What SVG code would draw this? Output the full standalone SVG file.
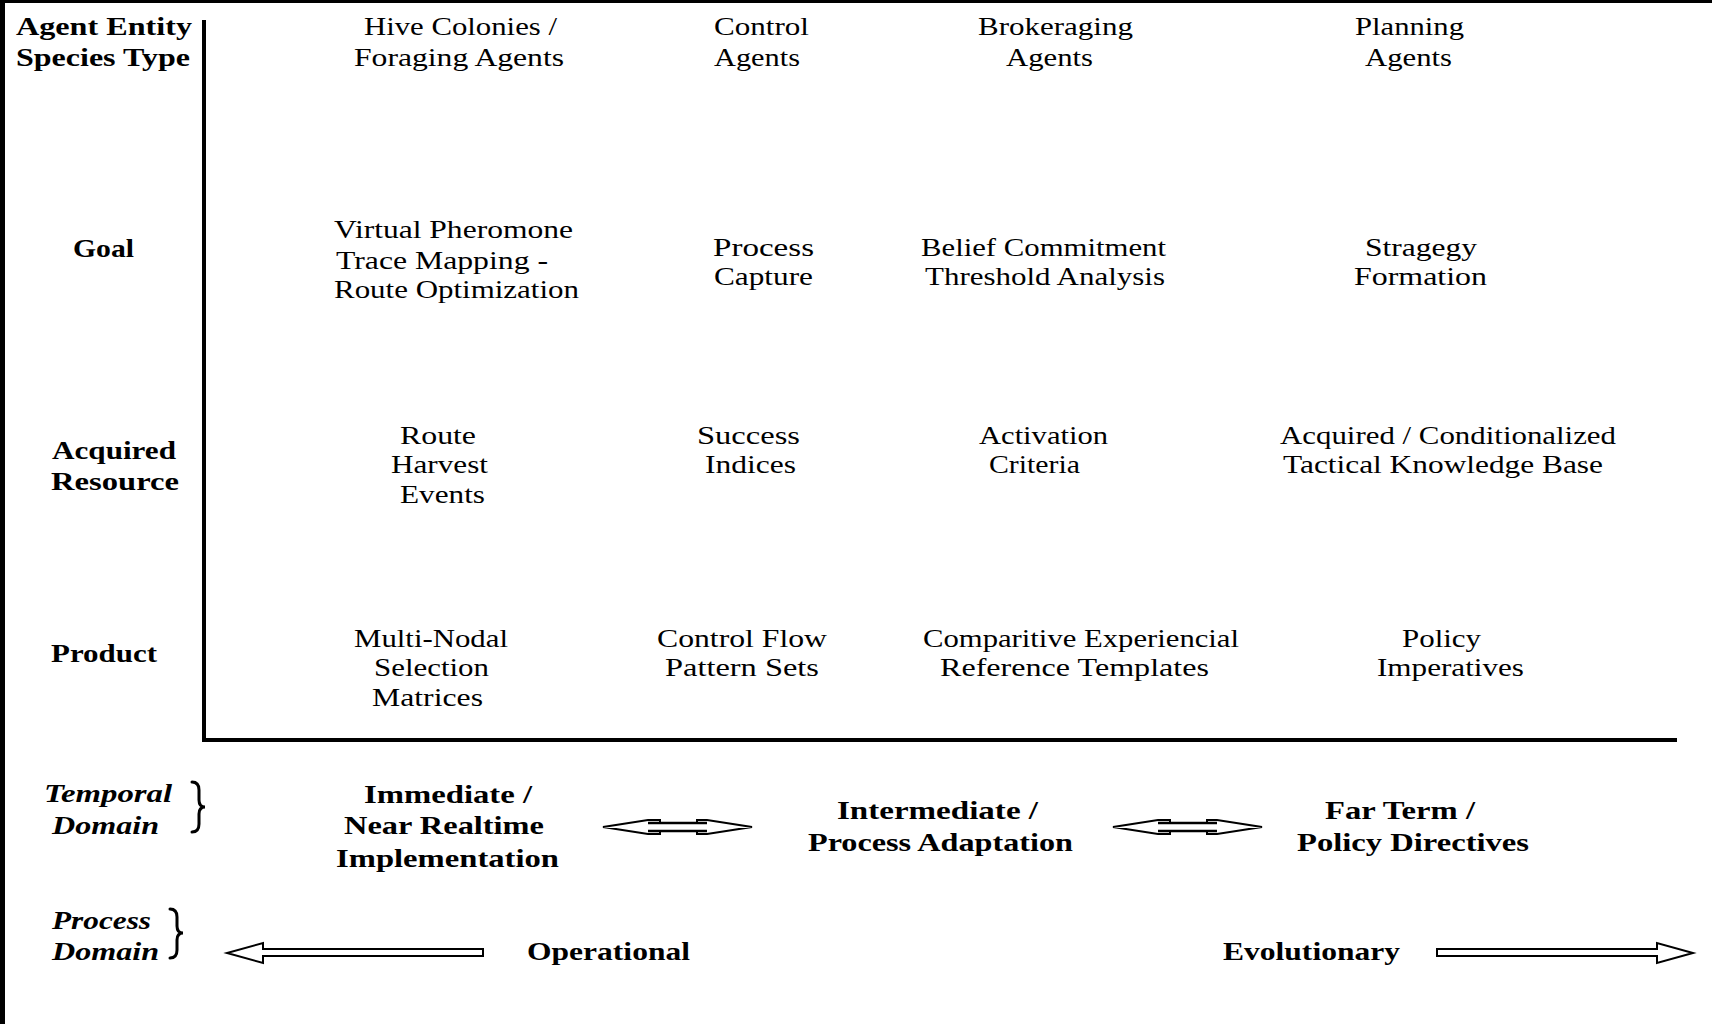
<svg xmlns="http://www.w3.org/2000/svg" width="1712" height="1024" viewBox="0 0 1712 1024">
<style>
text{font-family:"Liberation Serif","Times New Roman",serif;font-size:26px;fill:#000}
.b{font-weight:bold}
.bi{font-weight:bold;font-style:italic}
.axis{stroke:#000;stroke-width:4;fill:none}
.brace{stroke:#000;stroke-width:3;fill:none;stroke-linecap:round}
.arr{stroke:#000;stroke-width:2;fill:#fff;stroke-linejoin:miter}
.shaft{stroke:#000;stroke-width:2.5}
</style>
<rect x="0" y="0" width="1712" height="1024" fill="#fff"/>
<rect x="0" y="0" width="5" height="1024" fill="#000"/>
<rect x="0" y="0" width="1712" height="3" fill="#000"/>

<g id="axes">
<line class="axis" x1="204" y1="20" x2="204" y2="740"/>
<line class="axis" x1="202" y1="740" x2="1677" y2="740"/>
</g>

<g id="row-headers">
<g id="h-species"><text class="b" x="16" y="35" textLength="176" lengthAdjust="spacingAndGlyphs">Agent Entity</text><text class="b" x="16" y="66" textLength="174" lengthAdjust="spacingAndGlyphs">Species Type</text></g>
<g id="h-goal"><text class="b" x="73" y="257" textLength="61" lengthAdjust="spacingAndGlyphs">Goal</text></g>
<g id="h-resource"><text class="b" x="52" y="459" textLength="124" lengthAdjust="spacingAndGlyphs">Acquired</text><text class="b" x="51" y="490" textLength="128" lengthAdjust="spacingAndGlyphs">Resource</text></g>
<g id="h-product"><text class="b" x="51" y="662" textLength="106" lengthAdjust="spacingAndGlyphs">Product</text></g>
</g>

<g id="col-hive"><text x="364" y="35" textLength="193" lengthAdjust="spacingAndGlyphs">Hive Colonies /</text><text x="354" y="66" textLength="210" lengthAdjust="spacingAndGlyphs">Foraging Agents</text></g>
<g id="col-control"><text x="714" y="35" textLength="95" lengthAdjust="spacingAndGlyphs">Control</text><text x="714" y="66" textLength="86" lengthAdjust="spacingAndGlyphs">Agents</text></g>
<g id="col-broker"><text x="978" y="35" textLength="155" lengthAdjust="spacingAndGlyphs">Brokeraging</text><text x="1006" y="66" textLength="87" lengthAdjust="spacingAndGlyphs">Agents</text></g>
<g id="col-planning"><text x="1355" y="35" textLength="109" lengthAdjust="spacingAndGlyphs">Planning</text><text x="1365" y="66" textLength="87" lengthAdjust="spacingAndGlyphs">Agents</text></g>

<g id="goal-hive"><text x="334" y="238" textLength="239" lengthAdjust="spacingAndGlyphs">Virtual Pheromone</text><text x="336" y="269" textLength="212" lengthAdjust="spacingAndGlyphs">Trace Mapping -</text><text x="334" y="298" textLength="245" lengthAdjust="spacingAndGlyphs">Route Optimization</text></g>
<g id="goal-control"><text x="713" y="256" textLength="101" lengthAdjust="spacingAndGlyphs">Process</text><text x="714" y="285" textLength="99" lengthAdjust="spacingAndGlyphs">Capture</text></g>
<g id="goal-broker"><text x="921" y="256" textLength="245" lengthAdjust="spacingAndGlyphs">Belief Commitment</text><text x="925" y="285" textLength="240" lengthAdjust="spacingAndGlyphs">Threshold Analysis</text></g>
<g id="goal-planning"><text x="1365" y="256" textLength="112" lengthAdjust="spacingAndGlyphs">Stragegy</text><text x="1354" y="285" textLength="133" lengthAdjust="spacingAndGlyphs">Formation</text></g>

<g id="res-hive"><text x="400" y="444" textLength="76" lengthAdjust="spacingAndGlyphs">Route</text><text x="391" y="473" textLength="97" lengthAdjust="spacingAndGlyphs">Harvest</text><text x="400" y="503" textLength="85" lengthAdjust="spacingAndGlyphs">Events</text></g>
<g id="res-control"><text x="697" y="444" textLength="103" lengthAdjust="spacingAndGlyphs">Success</text><text x="705" y="473" textLength="91" lengthAdjust="spacingAndGlyphs">Indices</text></g>
<g id="res-broker"><text x="979" y="444" textLength="129" lengthAdjust="spacingAndGlyphs">Activation</text><text x="989" y="473" textLength="91" lengthAdjust="spacingAndGlyphs">Criteria</text></g>
<g id="res-planning"><text x="1280" y="444" textLength="336" lengthAdjust="spacingAndGlyphs">Acquired / Conditionalized</text><text x="1283" y="473" textLength="320" lengthAdjust="spacingAndGlyphs">Tactical Knowledge Base</text></g>

<g id="prod-hive"><text x="354" y="647" textLength="154" lengthAdjust="spacingAndGlyphs">Multi-Nodal</text><text x="374" y="676" textLength="115" lengthAdjust="spacingAndGlyphs">Selection</text><text x="372" y="706" textLength="111" lengthAdjust="spacingAndGlyphs">Matrices</text></g>
<g id="prod-control"><text x="657" y="647" textLength="170" lengthAdjust="spacingAndGlyphs">Control Flow</text><text x="665" y="676" textLength="154" lengthAdjust="spacingAndGlyphs">Pattern Sets</text></g>
<g id="prod-broker"><text x="923" y="647" textLength="316" lengthAdjust="spacingAndGlyphs">Comparitive Experiencial</text><text x="940" y="676" textLength="269" lengthAdjust="spacingAndGlyphs">Reference Templates</text></g>
<g id="prod-planning"><text x="1402" y="647" textLength="79" lengthAdjust="spacingAndGlyphs">Policy</text><text x="1377" y="676" textLength="147" lengthAdjust="spacingAndGlyphs">Imperatives</text></g>

<g id="temporal-domain"><text class="bi" x="44" y="802" textLength="128" lengthAdjust="spacingAndGlyphs">Temporal</text><text class="bi" x="52" y="834" textLength="107" lengthAdjust="spacingAndGlyphs">Domain</text>
<path class="brace" d="M192,782 Q199,782 199,790 L199,800 Q199,807 205,807 Q199,807 199,814 L199,824 Q199,832 192,832"/></g>
<g id="t-immediate"><text class="b" x="364" y="803" textLength="168" lengthAdjust="spacingAndGlyphs">Immediate /</text><text class="b" x="344" y="834" textLength="200" lengthAdjust="spacingAndGlyphs">Near Realtime</text><text class="b" x="336" y="867" textLength="223" lengthAdjust="spacingAndGlyphs">Implementation</text></g>
<g id="t-intermediate"><text class="b" x="837" y="819" textLength="201" lengthAdjust="spacingAndGlyphs">Intermediate /</text><text class="b" x="808" y="851" textLength="265" lengthAdjust="spacingAndGlyphs">Process Adaptation</text></g>
<g id="t-far"><text class="b" x="1325" y="819" textLength="150" lengthAdjust="spacingAndGlyphs">Far Term /</text><text class="b" x="1297" y="851" textLength="232" lengthAdjust="spacingAndGlyphs">Policy Directives</text></g>

<g id="process-domain"><text class="bi" x="52" y="929" textLength="99" lengthAdjust="spacingAndGlyphs">Process</text><text class="bi" x="52" y="960" textLength="107" lengthAdjust="spacingAndGlyphs">Domain</text>
<path class="brace" d="M170,909 Q177,909 177,917 L177,926 Q177,933 183,933 Q177,933 177,940 L177,950 Q177,958 170,958"/></g>
<g id="p-operational"><text class="b" x="527" y="960" textLength="163" lengthAdjust="spacingAndGlyphs">Operational</text></g>
<g id="p-evolutionary"><text class="b" x="1223" y="960" textLength="177" lengthAdjust="spacingAndGlyphs">Evolutionary</text></g>

<g id="connectors">
<g id="dbl1">
<polygon class="arr" stroke-width="1.5" points="603,827 648,820 660,820 660,823 697,823 697,820 707,820 752,827 707,834 697,834 697,831 660,831 660,834 648,834"/>
<line class="shaft" x1="648" y1="823" x2="707" y2="823"/><line class="shaft" x1="648" y1="831" x2="707" y2="831"/>
</g>
<g id="dbl2">
<polygon class="arr" stroke-width="1.5" points="1113,827 1158,820 1170,820 1170,823 1207,823 1207,820 1217,820 1262,827 1217,834 1207,834 1207,831 1170,831 1170,834 1158,834"/>
<line class="shaft" x1="1158" y1="823" x2="1217" y2="823"/><line class="shaft" x1="1158" y1="831" x2="1217" y2="831"/>
</g>
<polygon id="arrow-left" class="arr" points="483,949 263,949 263,943 227,953 263,963 263,956 483,956"/>
<polygon id="arrow-right" class="arr" points="1437,949 1657,949 1657,943 1693,953 1657,963 1657,956 1437,956"/>
</g>
</svg>
